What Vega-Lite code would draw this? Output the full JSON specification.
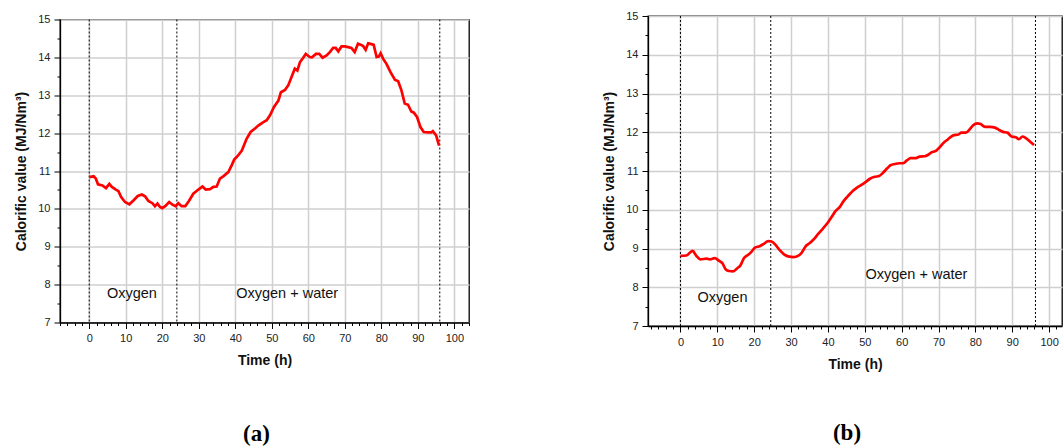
{
  "$schema": "https://vega.github.io/schema/vega-lite/v6.json",
  "background": "white",
  "padding": {"left": 14, "top": 9, "right": 0, "bottom": 0},
  "autosize": {"type": "pad"},
  "bounds": "flush",
  "center": true,
  "spacing": 179,
  "config": {
    "view": {"stroke": "black", "strokeWidth": 1.3},
    "font": "Liberation Sans",
    "axis": {
      "domainColor": "black", "domainWidth": 1.3,
      "tickColor": "black", "tickWidth": 1,
      "labelColor": "#222", "labelFontSize": 11, "labelFont": "Liberation Sans",
      "titleFont": "Liberation Sans", "titleFontSize": 14, "titleFontWeight": "bold", "titleColor": "#111",
      "gridColor": "#cfcfcf", "gridWidth": 1.5,
      "labelPadding": 4, "labelFlush": false, "labelOverlap": false, "labelBound": false,
      "tickCount": 500
    },
    "axisX": {"titlePadding": 10},
    "axisY": {"titlePadding": 9}
  },
  "datasets": {
    "a": [
      {"t":0,"v":10.84},{"t":1.2,"v":10.86},{"t":1.8,"v":10.8},{"t":2.4,"v":10.65},{"t":3.6,"v":10.62},{"t":4.6,"v":10.55},{"t":5.5,"v":10.66},{"t":6.2,"v":10.58},{"t":7.3,"v":10.51},{"t":8.0,"v":10.47},{"t":8.75,"v":10.31},{"t":9.8,"v":10.18},{"t":11.0,"v":10.12},{"t":12.1,"v":10.22},{"t":13.3,"v":10.34},{"t":14.4,"v":10.38},{"t":15.3,"v":10.33},{"t":16.2,"v":10.21},{"t":17.3,"v":10.15},{"t":18.0,"v":10.07},{"t":18.7,"v":10.14},{"t":19.4,"v":10.05},{"t":20.0,"v":10.02},{"t":20.8,"v":10.07},{"t":21.9,"v":10.18},{"t":22.8,"v":10.11},{"t":23.7,"v":10.07},{"t":24.4,"v":10.15},{"t":25.3,"v":10.07},{"t":26.3,"v":10.07},{"t":27.3,"v":10.21},{"t":28.5,"v":10.4},{"t":29.9,"v":10.51},{"t":31.0,"v":10.59},{"t":31.9,"v":10.51},{"t":33.1,"v":10.52},{"t":34.0,"v":10.58},{"t":34.9,"v":10.59},{"t":35.8,"v":10.8},{"t":36.7,"v":10.86},{"t":38.1,"v":10.97},{"t":39.0,"v":11.15},{"t":39.7,"v":11.3},{"t":40.6,"v":11.39},{"t":41.8,"v":11.54},{"t":43.1,"v":11.85},{"t":44.2,"v":12.03},{"t":45.4,"v":12.12},{"t":46.3,"v":12.2},{"t":47.7,"v":12.29},{"t":48.6,"v":12.34},{"t":49.5,"v":12.47},{"t":50.6,"v":12.69},{"t":51.8,"v":12.86},{"t":52.5,"v":13.08},{"t":53.6,"v":13.14},{"t":54.5,"v":13.26},{"t":55.4,"v":13.48},{"t":56.3,"v":13.7},{"t":57.0,"v":13.65},{"t":57.7,"v":13.87},{"t":58.6,"v":13.99},{"t":59.3,"v":14.09},{"t":60.4,"v":14.01},{"t":61.0,"v":14.0},{"t":62.1,"v":14.09},{"t":63.0,"v":14.09},{"t":63.9,"v":13.99},{"t":65.0,"v":14.05},{"t":65.9,"v":14.14},{"t":66.8,"v":14.25},{"t":67.5,"v":14.25},{"t":68.2,"v":14.16},{"t":69.1,"v":14.29},{"t":70.0,"v":14.29},{"t":70.9,"v":14.27},{"t":71.8,"v":14.25},{"t":72.7,"v":14.14},{"t":73.6,"v":14.36},{"t":74.5,"v":14.33},{"t":75.0,"v":14.3},{"t":75.7,"v":14.2},{"t":76.4,"v":14.37},{"t":77.3,"v":14.35},{"t":77.9,"v":14.33},{"t":78.7,"v":14.01},{"t":79.3,"v":14.02},{"t":79.8,"v":14.11},{"t":80.5,"v":13.96},{"t":81.4,"v":13.83},{"t":82.5,"v":13.61},{"t":83.7,"v":13.41},{"t":84.6,"v":13.37},{"t":85.5,"v":13.13},{"t":86.4,"v":12.78},{"t":87.3,"v":12.75},{"t":88.2,"v":12.57},{"t":88.9,"v":12.54},{"t":89.8,"v":12.42},{"t":90.7,"v":12.16},{"t":91.6,"v":12.03},{"t":92.8,"v":12.02},{"t":93.7,"v":12.02},{"t":94.1,"v":12.05},{"t":95.0,"v":11.94},{"t":95.8,"v":11.67}
    ],
    "b": [
      {"t":0,"v":8.81},{"t":1.6,"v":8.82},{"t":3.3,"v":8.94},{"t":4.3,"v":8.81},{"t":5.4,"v":8.72},{"t":7.1,"v":8.74},{"t":8.0,"v":8.72},{"t":9.3,"v":8.75},{"t":10.5,"v":8.68},{"t":11.4,"v":8.62},{"t":12.3,"v":8.46},{"t":13.2,"v":8.42},{"t":14.3,"v":8.41},{"t":15.4,"v":8.49},{"t":16.3,"v":8.57},{"t":17.2,"v":8.75},{"t":18.3,"v":8.83},{"t":19.3,"v":8.92},{"t":20.2,"v":9.02},{"t":21.5,"v":9.06},{"t":22.6,"v":9.12},{"t":23.8,"v":9.19},{"t":24.7,"v":9.18},{"t":25.9,"v":9.08},{"t":27.0,"v":8.95},{"t":28.1,"v":8.85},{"t":29.5,"v":8.79},{"t":30.7,"v":8.78},{"t":31.9,"v":8.81},{"t":32.8,"v":8.88},{"t":34.0,"v":9.06},{"t":35.1,"v":9.14},{"t":36.2,"v":9.24},{"t":37.3,"v":9.37},{"t":38.7,"v":9.52},{"t":40.0,"v":9.67},{"t":41.0,"v":9.81},{"t":42.1,"v":9.97},{"t":43.2,"v":10.07},{"t":44.3,"v":10.23},{"t":45.5,"v":10.36},{"t":46.8,"v":10.49},{"t":47.9,"v":10.57},{"t":49.1,"v":10.64},{"t":50.3,"v":10.72},{"t":51.4,"v":10.8},{"t":52.7,"v":10.85},{"t":53.9,"v":10.87},{"t":55.0,"v":10.96},{"t":56.1,"v":11.07},{"t":57.0,"v":11.15},{"t":58.2,"v":11.18},{"t":59.3,"v":11.2},{"t":60.4,"v":11.2},{"t":61.5,"v":11.28},{"t":62.4,"v":11.33},{"t":63.6,"v":11.33},{"t":64.9,"v":11.37},{"t":66.3,"v":11.38},{"t":67.2,"v":11.42},{"t":68.1,"v":11.48},{"t":69.3,"v":11.52},{"t":70.4,"v":11.62},{"t":71.3,"v":11.72},{"t":72.6,"v":11.82},{"t":74.0,"v":11.92},{"t":75.4,"v":11.94},{"t":76.2,"v":11.99},{"t":77.4,"v":11.99},{"t":78.5,"v":12.08},{"t":79.4,"v":12.18},{"t":80.5,"v":12.23},{"t":81.4,"v":12.21},{"t":82.6,"v":12.14},{"t":84.0,"v":12.14},{"t":85.3,"v":12.12},{"t":86.4,"v":12.06},{"t":87.5,"v":12.01},{"t":88.7,"v":11.99},{"t":89.8,"v":11.89},{"t":91.0,"v":11.87},{"t":91.8,"v":11.82},{"t":92.8,"v":11.89},{"t":93.7,"v":11.85},{"t":94.8,"v":11.76},{"t":95.9,"v":11.67}
    ],
    "rulesA": [{"t":0},{"t":24},{"t":96}],
    "rulesB": [{"t":0},{"t":24.5},{"t":96.3}],
    "labelsA": [{"t":11.7,"v":7.74,"label":"Oxygen"},{"t":54.2,"v":7.74,"label":"Oxygen + water"}],
    "labelsB": [{"t":11.4,"v":7.73,"label":"Oxygen"},{"t":64,"v":8.31,"label":"Oxygen + water"}]
  },
  "hconcat": [
    {
      "width": 409, "height": 303,
      "title": {"text": "(a)", "orient": "bottom", "offset": 55, "dx": -8, "anchor": "middle", "font": "Liberation Serif", "fontSize": 23, "fontWeight": "bold", "color": "black"},
      "layer": [
        {
          "data": {"name": "rulesA"},
          "mark": {"type": "rule", "strokeDash": [2, 2], "color": "black", "strokeWidth": 1},
          "encoding": {
            "x": {"field": "t", "type": "quantitative",
              "scale": {"domain": [-8, 104], "nice": false, "zero": false},
              "axis": {"title": "Time (h)", "grid": true, "tickCount": 500,
                "values": [-8,-6,-4,-2,0,2,4,6,8,10,12,14,16,18,20,22,24,26,28,30,32,34,36,38,40,42,44,46,48,50,52,54,56,58,60,62,64,66,68,70,72,74,76,78,80,82,84,86,88,90,92,94,96,98,100,102,104],
                "labelExpr": "datum.value % 10 === 0 ? format(datum.value, 'd') : ''",
                "tickSize": {"condition": {"test": "datum.value % 10 === 0", "value": 6}, "value": 3},
                "gridOpacity": {"condition": {"test": "datum.value % 10 === 0", "value": 1}, "value": 0}}
            }
          }
        },
        {
          "data": {"name": "a"},
          "mark": {"type": "line", "color": "#ff0000", "strokeWidth": 2.7},
          "encoding": {
            "x": {"field": "t", "type": "quantitative"},
            "y": {"field": "v", "type": "quantitative",
              "scale": {"domain": [7, 15], "nice": false, "zero": false},
              "axis": {"title": "Calorific value (MJ/Nm³)", "grid": true, "tickCount": 500,
                "values": [7,7.5,8,8.5,9,9.5,10,10.5,11,11.5,12,12.5,13,13.5,14,14.5,15],
                "labelExpr": "datum.value % 1 === 0 ? format(datum.value, 'd') : ''",
                "tickSize": {"condition": {"test": "datum.value % 1 === 0", "value": 6}, "value": 3},
                "gridOpacity": {"condition": {"test": "datum.value % 1 === 0", "value": 1}, "value": 0}}
            }
          }
        },
        {
          "data": {"name": "labelsA"},
          "mark": {"type": "text", "fontSize": 14.5, "color": "#111", "font": "Liberation Sans"},
          "encoding": {
            "x": {"field": "t", "type": "quantitative"},
            "y": {"field": "v", "type": "quantitative"},
            "text": {"field": "label"}
          }
        }
      ]
    },
    {
      "width": 414, "height": 310,
      "title": {"text": "(b)", "orient": "bottom", "offset": 51, "dx": -8, "anchor": "middle", "font": "Liberation Serif", "fontSize": 23, "fontWeight": "bold", "color": "black"},
      "layer": [
        {
          "data": {"name": "rulesB"},
          "mark": {"type": "rule", "strokeDash": [2, 2], "color": "black", "strokeWidth": 1},
          "encoding": {
            "x": {"field": "t", "type": "quantitative",
              "scale": {"domain": [-8.8, 103.5], "nice": false, "zero": false},
              "axis": {"title": "Time (h)", "grid": true, "tickCount": 500,
                "values": [-8,-6,-4,-2,0,2,4,6,8,10,12,14,16,18,20,22,24,26,28,30,32,34,36,38,40,42,44,46,48,50,52,54,56,58,60,62,64,66,68,70,72,74,76,78,80,82,84,86,88,90,92,94,96,98,100,102],
                "labelExpr": "datum.value % 10 === 0 ? format(datum.value, 'd') : ''",
                "tickSize": {"condition": {"test": "datum.value % 10 === 0", "value": 6}, "value": 3},
                "gridOpacity": {"condition": {"test": "datum.value % 10 === 0", "value": 1}, "value": 0}}
            }
          }
        },
        {
          "data": {"name": "b"},
          "mark": {"type": "line", "color": "#ff0000", "strokeWidth": 2.7, "interpolate": "monotone"},
          "encoding": {
            "x": {"field": "t", "type": "quantitative"},
            "y": {"field": "v", "type": "quantitative",
              "scale": {"domain": [7, 15], "nice": false, "zero": false},
              "axis": {"title": "Calorific value (MJ/Nm³)", "grid": true, "tickCount": 500,
                "values": [7,7.5,8,8.5,9,9.5,10,10.5,11,11.5,12,12.5,13,13.5,14,14.5,15],
                "labelExpr": "datum.value % 1 === 0 ? format(datum.value, 'd') : ''",
                "tickSize": {"condition": {"test": "datum.value % 1 === 0", "value": 6}, "value": 3},
                "gridOpacity": {"condition": {"test": "datum.value % 1 === 0", "value": 1}, "value": 0}}
            }
          }
        },
        {
          "data": {"name": "labelsB"},
          "mark": {"type": "text", "fontSize": 14.5, "color": "#111", "font": "Liberation Sans"},
          "encoding": {
            "x": {"field": "t", "type": "quantitative"},
            "y": {"field": "v", "type": "quantitative"},
            "text": {"field": "label"}
          }
        }
      ]
    }
  ]
}
